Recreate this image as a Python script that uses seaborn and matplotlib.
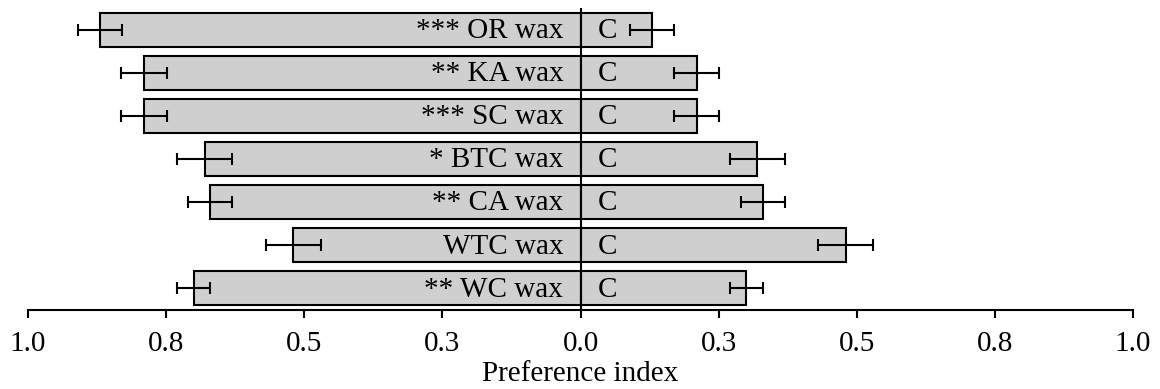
import matplotlib
matplotlib.use("Agg")
import matplotlib.pyplot as plt
import seaborn as sns
import pandas as pd
import numpy as np

# ---- data ----
categories = ["OR wax", "KA wax", "SC wax", "BTC wax", "CA wax", "WTC wax", "WC wax"]
significance = ["***", "**", "***", "*", "**", "", "**"]
wax_pref = [0.87, 0.79, 0.79, 0.68, 0.67, 0.52, 0.70]
control_pref = [0.13, 0.21, 0.21, 0.32, 0.33, 0.48, 0.30]
sem = [0.040, 0.041, 0.041, 0.050, 0.040, 0.050, 0.030]
control_label = "C"
tick_values = [-1.0, -0.75, -0.5, -0.25, 0.0, 0.25, 0.5, 0.75, 1.0]
tick_labels = ["1.0", "0.8", "0.5", "0.3", "0.0", "0.3", "0.5", "0.8", "1.0"]
x_label = "Preference index"

sns.set_theme(style="white")
plt.rcParams["font.family"] = ["Liberation Serif", "DejaVu Serif"]
plt.rcParams["text.color"] = "black"
plt.rcParams["axes.labelcolor"] = "black"
plt.rcParams["xtick.color"] = "black"

fig = plt.figure(figsize=(11.6, 3.89), dpi=100)
ax = fig.add_axes([28 / 1160, 1 - 310 / 389, (1133 - 28) / 1160, (310 - 8) / 389])

bar_color = "#D0CFD0"
df_wax = pd.DataFrame({"cat": categories, "val": [-v for v in wax_pref]})
df_ctl = pd.DataFrame({"cat": categories, "val": control_pref})

sns.barplot(data=df_wax, x="val", y="cat", orient="h", color=bar_color,
            edgecolor="black", linewidth=1.5, width=0.79, errorbar=None,
            saturation=1, ax=ax)
sns.barplot(data=df_ctl, x="val", y="cat", orient="h", color=bar_color,
            edgecolor="black", linewidth=1.5, width=0.79, errorbar=None,
            saturation=1, ax=ax)

ypos = np.arange(len(categories))
ax.errorbar([-v for v in wax_pref], ypos, xerr=sem, fmt="none", ecolor="black",
            elinewidth=1.5, capsize=4.3, capthick=1.5, zorder=5)
ax.errorbar(control_pref, ypos, xerr=sem, fmt="none", ecolor="black",
            elinewidth=1.5, capsize=4.3, capthick=1.5, zorder=5)

for i, (cat, sig) in enumerate(zip(categories, significance)):
    txt = f"{sig} {cat}" if sig else cat
    ax.text(-0.031, i + 0.03, txt, ha="right", va="center", fontsize=21,
            color="black", zorder=6)
    ax.text(0.031, i + 0.03, control_label, ha="left", va="center", fontsize=21,
            color="black", zorder=6)

ax.axvline(0, color="black", lw=1.5, zorder=7)

ax.set_xlim(-1.0, 1.0)
ax.set_ylim(6.5, -0.5)
ax.set_xticks(tick_values)
ax.set_xticklabels(tick_labels, fontsize=21)
ax.set_yticks([])
ax.set_ylabel("")
ax.set_xlabel(x_label, fontsize=21, labelpad=3)
for s in ["top", "right", "left"]:
    ax.spines[s].set_visible(False)
ax.spines["bottom"].set_color("black")
ax.spines["bottom"].set_linewidth(1.5)
ax.tick_params(axis="x", direction="out", length=6, width=1.5, color="black",
               bottom=True, pad=9)

fig.savefig("out.png", dpi=100)
